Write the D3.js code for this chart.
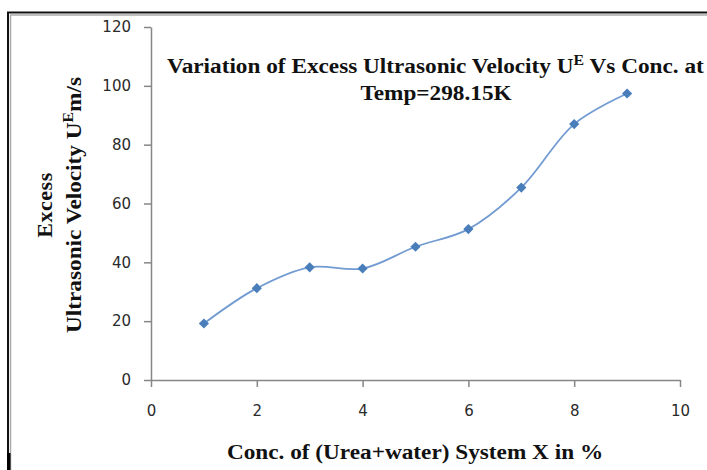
<!DOCTYPE html>
<html>
<head>
<meta charset="utf-8">
<script src="https://cdn.jsdelivr.net/npm/d3@7"></script>
<style>
html,body{margin:0;padding:0;background:#fff;}
svg{display:block;}
</style>
</head>
<body>
<script>
const concX = [1, 2, 3, 4, 5, 6, 7, 8, 9];
const excessVelocity = [19.2, 31.2, 38.3, 37.9, 45.3, 51.3, 65.4, 87.0, 97.4];
const xTicks = [0, 2, 4, 6, 8, 10];
const yTicks = [0, 20, 40, 60, 80, 100, 120];
const titleLine1 = "Variation of Excess Ultrasonic Velocity U";
const titleLine2 = "Temp=298.15K";
const xLabel = "Conc. of (Urea+water) System X in %";

const W = 707, H = 470;
const svg = d3.select("body").append("svg").attr("width", W).attr("height", H);
svg.append("rect").attr("width", W).attr("height", H).attr("fill", "#fff");

// frame (partial border of the original chart area)
svg.append("line").attr("x1", 7).attr("x2", W).attr("y1", 12.5).attr("y2", 12.5).attr("stroke", "#111").attr("stroke-width", 2);
svg.append("line").attr("x1", 10).attr("x2", W).attr("y1", 15).attr("y2", 15).attr("stroke", "#aaa").attr("stroke-width", 1.5);
svg.append("line").attr("x1", 8).attr("x2", 8).attr("y1", 12).attr("y2", H).attr("stroke", "#111").attr("stroke-width", 2);
svg.append("line").attr("x1", 10.5).attr("x2", 10.5).attr("y1", 15).attr("y2", H).attr("stroke", "#aaa").attr("stroke-width", 1.5);
svg.append("rect").attr("x", 7).attr("y", 453).attr("width", 3.5).attr("height", H - 453).attr("fill", "#000");

const x = d3.scaleLinear().domain([0, 10]).range([151, 680]);
const y = d3.scaleLinear().domain([0, 120]).range([380, 27]);

const axisColor = "#868686";
const tickFont = "'DejaVu Sans', sans-serif";

const gx = svg.append("g").attr("transform", `translate(0,${y(0)})`)
  .call(d3.axisBottom(x).tickValues(xTicks).tickSize(7).tickSizeOuter(0).tickPadding(18));
const gy = svg.append("g").attr("transform", `translate(${x(0)},0)`)
  .call(d3.axisLeft(y).tickValues(yTicks).tickSize(7).tickSizeOuter(0).tickPadding(13));
[gx, gy].forEach(g => {
  g.select(".domain").attr("stroke", axisColor).attr("stroke-width", 1.5);
  g.selectAll(".tick line").attr("stroke", axisColor).attr("stroke-width", 1.5);
  g.selectAll(".tick text").attr("fill", "#2a2a2a").attr("font-family", tickFont).attr("font-size", 15);
});

// smooth line
const line = d3.line().x((d, i) => x(concX[i])).y(d => y(d)).curve(d3.curveCatmullRom.alpha(0.5));
svg.append("path").datum(excessVelocity).attr("d", line)
  .attr("fill", "none").attr("stroke", "#729BD2").attr("stroke-width", 1.8);

const diamond = d3.symbol().type(d3.symbolSquare).size(52);
svg.selectAll("path.mk").data(excessVelocity).join("path").attr("class", "mk")
  .attr("d", diamond)
  .attr("transform", (d, i) => `translate(${x(concX[i])},${y(d)}) rotate(45)`)
  .attr("fill", "#4A7EBB");

// title
const serif = "'Liberation Serif', 'Times New Roman', serif";
const FS = 22, SX = 1.057;
const t1 = svg.append("text").attr("transform", `translate(167,73) scale(${SX},1)`)
  .attr("font-family", serif).attr("font-weight", "bold").attr("font-size", FS).attr("fill", "#111");
t1.append("tspan").text(titleLine1);
t1.append("tspan").attr("dy", -8).attr("font-size", 15).text("E");
t1.append("tspan").attr("dy", 8).text(" Vs Conc. at");
svg.append("text").attr("transform", `translate(436,100) scale(${SX},1)`).attr("text-anchor", "middle")
  .attr("font-family", serif).attr("font-weight", "bold").attr("font-size", FS).attr("fill", "#111")
  .text(titleLine2);

// y label
const yl = svg.append("g").attr("transform", "translate(0,205) rotate(-90)");
yl.append("text").attr("transform", `translate(0,52) scale(1.1,1)`).attr("text-anchor", "middle")
  .attr("font-family", serif).attr("font-weight", "bold").attr("font-size", 20).attr("letter-spacing", 0.5)
  .attr("fill", "#111").text("Excess");
const yl2 = yl.append("text").attr("transform", `translate(0,81) scale(${SX},1)`).attr("text-anchor", "middle")
  .attr("font-family", serif).attr("font-weight", "bold").attr("font-size", FS).attr("fill", "#111");
yl2.append("tspan").text("Ultrasonic Velocity U");
yl2.append("tspan").attr("dy", -8).attr("font-size", 15).text("E");
yl2.append("tspan").attr("dy", 8).text("m/s");

// x label
svg.append("text").attr("transform", `translate(415,459) scale(${SX},1)`).attr("text-anchor", "middle")
  .attr("font-family", serif).attr("font-weight", "bold").attr("font-size", FS).attr("fill", "#111")
  .text(xLabel);
</script>
</body>
</html>
